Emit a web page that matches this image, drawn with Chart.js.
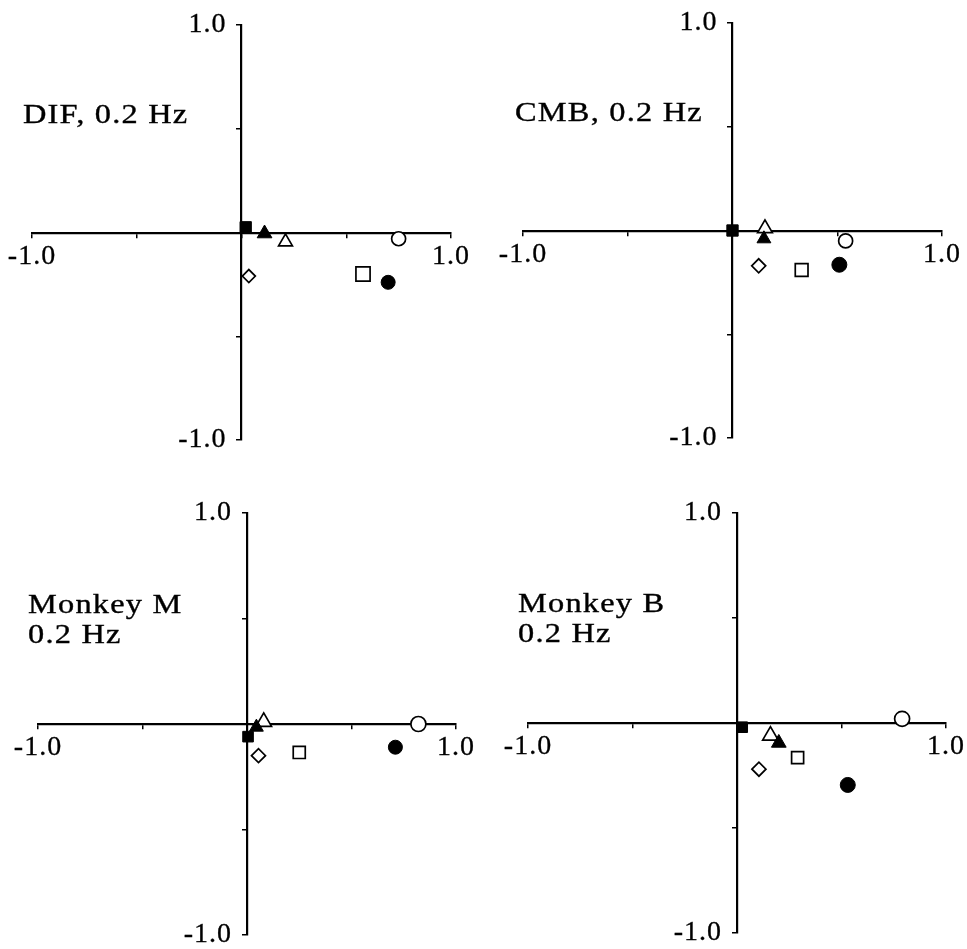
<!DOCTYPE html>
<html>
<head>
<meta charset="utf-8">
<script src="https://cdn.jsdelivr.net/npm/chart.js@4.4.1/dist/chart.umd.min.js"></script>
<style>
  html, body { margin: 0; padding: 0; background: #fff; width: 967px; height: 949px; overflow: hidden; position: relative; }
  canvas { position: absolute; }
</style>
</head>
<body>
<canvas id="panel0"></canvas>
<canvas id="panel1"></canvas>
<canvas id="panel2"></canvas>
<canvas id="panel3"></canvas>
<script>
// Panel captions (one entry per panel, one string per line)
const panelTitles = [['DIF, 0.2 Hz'], ['CMB, 0.2 Hz'], ['Monkey M', '0.2 Hz'], ['Monkey B', '0.2 Hz']];

// Axis ticks and the labels shown at the axis ends
const axisTicks = [-1, -0.5, 0, 0.5, 1];
const tickLabels = { '-1': '-1.0', '1': '1.0' };

// Point coordinates, one value per panel (DIF, CMB, Monkey M, Monkey B)
const openCircleX     = [0.75, 0.54, 0.82, 0.79];
const openCircleY     = [-0.03, -0.05, 0.00, 0.02];
const filledCircleX   = [0.70, 0.51, 0.71, 0.53];
const filledCircleY   = [-0.24, -0.165, -0.11, -0.295];
const openSquareX     = [0.58, 0.33, 0.25, 0.29];
const openSquareY     = [-0.20, -0.19, -0.135, -0.165];
const filledSquareX   = [0.02, 0.00, 0.005, 0.025];
const filledSquareY   = [0.025, 0.00, -0.06, -0.02];
const openTriangleX   = [0.21, 0.155, 0.08, 0.16];
const openTriangleY   = [-0.045, 0.01, 0.01, -0.06];
const filledTriangleX = [0.11, 0.15, 0.045, 0.20];
const filledTriangleY = [-0.005, -0.04, -0.015, -0.095];
const openDiamondX    = [0.035, 0.125, 0.055, 0.105];
const openDiamondY    = [-0.21, -0.17, -0.15, -0.22];

// Marker series: symbol, fill and size
const series = [
  { name: 'filled square',   x: filledSquareX,   y: filledSquareY,   style: 'rect',     filled: true,  r: [8, 8, 7.5, 7.5] },
  { name: 'filled triangle', x: filledTriangleX, y: filledTriangleY, style: 'triangle', filled: true,  r: [8.5, 8, 8, 8.5] },
  { name: 'open triangle',   x: openTriangleX,   y: openTriangleY,   style: 'triangle', filled: false, r: [8, 8.5, 9, 9] },
  { name: 'open diamond',    x: openDiamondX,    y: openDiamondY,    style: 'rectRot',  filled: false, r: [6.5, 7, 7, 7] },
  { name: 'open square',     x: openSquareX,     y: openSquareY,     style: 'rect',     filled: false, r: [10, 9, 8.5, 8.5] },
  { name: 'filled circle',   x: filledCircleX,   y: filledCircleY,   style: 'circle',   filled: true,  r: [7, 7.5, 7, 7.5] },
  { name: 'open circle',     x: openCircleX,     y: openCircleY,     style: 'circle',   filled: false, r: [7, 7, 7.5, 7.5] }
];

// Plot-area boxes of the four panels on the page
const frames = [
  { left: 32,  top: 25,  width: 419, height: 415 },
  { left: 523, top: 23,  width: 419, height: 415 },
  { left: 38,  top: 513, width: 418, height: 422 },
  { left: 528, top: 513, width: 418, height: 420 }
];
// Offsets of the caption from the plot-area corner
const captionOffsets = [
  { dx: -9,  dy: 98 },
  { dx: -8,  dy: 98 },
  { dx: -10, dy: 100 },
  { dx: -10, dy: 99 }
];

const MARGIN = 40;
const SERIF = '"Liberation Serif", "Times New Roman", serif';

// Draws the panel caption (wide serif lettering) and sets the tick-label tracking
const captionPlugin = {
  id: 'caption',
  beforeDraw(chart) {
    chart.ctx.letterSpacing = '1px';
  },
  afterDraw(chart, args, opts) {
    const { ctx, chartArea } = chart;
    ctx.save();
    ctx.letterSpacing = '1px';
    ctx.font = '27px ' + SERIF;
    ctx.fillStyle = '#000';
    ctx.strokeStyle = '#000';
    ctx.lineWidth = 0.35;
    ctx.textAlign = 'left';
    ctx.textBaseline = 'alphabetic';
    opts.lines.forEach((line, k) => {
      ctx.save();
      ctx.translate(chartArea.left + opts.dx, chartArea.top + opts.dy + k * 30);
      ctx.scale(1.2, 1);
      ctx.fillText(line, 0, 0);
      ctx.strokeText(line, 0, 0);
      ctx.restore();
    });
    ctx.restore();
  }
};

function axisOptions(pad) {
  return {
    type: 'linear',
    min: -1,
    max: 1,
    position: 'center',
    afterBuildTicks: scale => { scale.ticks = axisTicks.map(v => ({ value: v })); },
    ticks: {
      callback: v => tickLabels[String(v)] || '',
      color: '#000',
      textStrokeColor: '#000',
      textStrokeWidth: 0.3,
      font: { family: SERIF, size: 28 },
      padding: pad,
      maxRotation: 0,
      autoSkip: false
    },
    grid: { display: true, drawOnChartArea: false, drawTicks: true, tickLength: 4, color: '#000', lineWidth: 1.5 },
    border: { display: true, color: '#000', width: 2.2 }
  };
}

frames.forEach((f, i) => {
  const canvas = document.getElementById('panel' + i);
  canvas.width = f.width + 2 * MARGIN;
  canvas.height = f.height + 2 * MARGIN;
  canvas.style.left = (f.left - MARGIN) + 'px';
  canvas.style.top = (f.top - MARGIN) + 'px';

  new Chart(canvas, {
    type: 'scatter',
    data: {
      datasets: series.map(s => ({
        label: s.name,
        data: [{ x: s.x[i], y: s.y[i] }],
        pointStyle: s.style,
        pointRadius: s.r[i],
        pointHoverRadius: s.r[i],
        backgroundColor: s.filled ? '#000' : '#fff',
        borderColor: '#000',
        pointBorderWidth: s.filled ? 1 : 1.7,
        pointHoverBorderWidth: s.filled ? 1 : 1.7
      }))
    },
    options: {
      responsive: false,
      devicePixelRatio: 1,
      animation: false,
      events: [],
      layout: { padding: MARGIN },
      plugins: {
        legend: { display: false },
        tooltip: { enabled: false },
        caption: { lines: panelTitles[i], dx: captionOffsets[i].dx, dy: captionOffsets[i].dy }
      },
      scales: {
        x: axisOptions(3),
        y: axisOptions(11)
      }
    },
    plugins: [captionPlugin]
  });
});
</script>
</body>
</html>
